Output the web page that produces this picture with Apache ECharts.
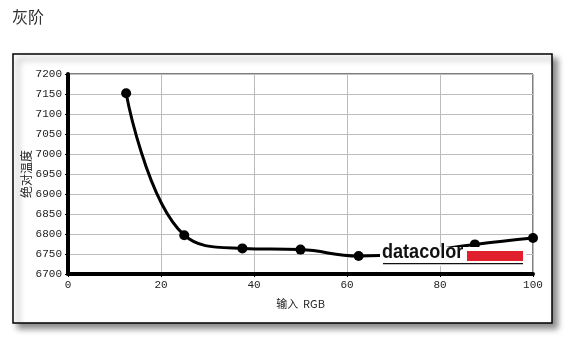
<!DOCTYPE html>
<html>
<head>
<meta charset="utf-8">
<script src="https://cdn.jsdelivr.net/npm/echarts@6/dist/echarts.min.js"></script>
<style>
html,body{margin:0;padding:0;background:#fff;}
#c{width:577px;height:347px;}
</style>
</head>
<body>
<div id="c"></div>
<script>
var xValues = [12.5, 25, 37.5, 50, 62.5, 75, 87.5, 100];
var yValues = [7152, 6797, 6764, 6761, 6745, 6755, 6774, 6790];
var titleText = '灰阶';
var xName = '输入  RGB';
var yName = '绝对温度';
var logoText = 'datacolor';

var chart = echarts.init(document.getElementById('c'));
var pts = xValues.map(function (x, i) { return [x, yValues[i]]; });
var tickFont = { fontFamily: 'Liberation Mono', fontSize: 11, color: '#222' };

chart.setOption({
  animation: false,
  backgroundColor: '#fff',
  graphic: [
    { type: 'rect', z: -10, shape: { x: 13, y: 54, width: 539, height: 269 },
      style: { fill: '#fff', stroke: '#000', lineWidth: 1.5,
        shadowBlur: 6, shadowOffsetX: 5, shadowOffsetY: 5, shadowColor: 'rgba(0,0,0,0.45)' } },
    { type: 'text', left: 12, top: 9,
      style: { text: titleText, fontSize: 16, fill: '#333', fontFamily: 'Noto Sans CJK SC' } },
    { type: 'rect', z: 100, shape: { x: 380, y: 247, width: 146, height: 19 }, style: { fill: '#fff' } },
    { type: 'group', x: 382, y: 263, scaleX: 0.86, z: 101, children: [
      { type: 'text', z: 101, x: 0, y: 0, style: { text: logoText, fontSize: 21, fontWeight: 'bold',
          fontFamily: 'Liberation Sans', fill: '#111', verticalAlign: 'bottom', align: 'left' } }
    ] },
    { type: 'rect', z: 101, shape: { x: 467, y: 251, width: 56, height: 10 }, style: { fill: '#e0202a' } },
    { type: 'rect', z: 101, shape: { x: 383, y: 263, width: 140, height: 1.2 }, style: { fill: '#111' } }
  ],
  grid: { left: 68, right: 44, top: 74, bottom: 73, show: true, borderColor: '#000', borderWidth: 1 },
  xAxis: {
    type: 'value', min: 0, max: 100, interval: 20,
    name: xName, nameLocation: 'middle', nameGap: 24, nameMoveOverlap: false,
    nameTextStyle: { fontSize: 11, color: '#222', fontFamily: 'Noto Sans CJK SC' },
    axisLine: { show: true, lineStyle: { color: '#000', width: 4 } },
    axisTick: { show: true, length: 3, lineStyle: { color: '#000' } },
    axisLabel: Object.assign({ margin: 6, formatter: function (v) { return String(v); } }, tickFont),
    splitLine: { show: true, lineStyle: { color: '#bdbdbd', width: 1 } }
  },
  yAxis: {
    type: 'value', min: 6700, max: 7200, interval: 50,
    name: yName, nameLocation: 'middle', nameGap: 36, nameRotate: 90, nameMoveOverlap: false,
    nameTextStyle: { fontSize: 12, color: '#222', fontFamily: 'Noto Sans CJK SC' },
    axisLine: { show: true, lineStyle: { color: '#000', width: 4 } },
    axisTick: { show: true, length: 3, lineStyle: { color: '#000' } },
    axisLabel: Object.assign({ margin: 6, formatter: function (v) { return String(v); } }, tickFont),
    splitLine: { show: true, lineStyle: { color: '#bdbdbd', width: 1 } }
  },
  series: [{
    type: 'line', data: pts, smooth: 0.45,
    symbol: 'circle', symbolSize: 10,
    itemStyle: { color: '#000' },
    lineStyle: { color: '#000', width: 3 }
  }]
});
</script>
</body>
</html>
